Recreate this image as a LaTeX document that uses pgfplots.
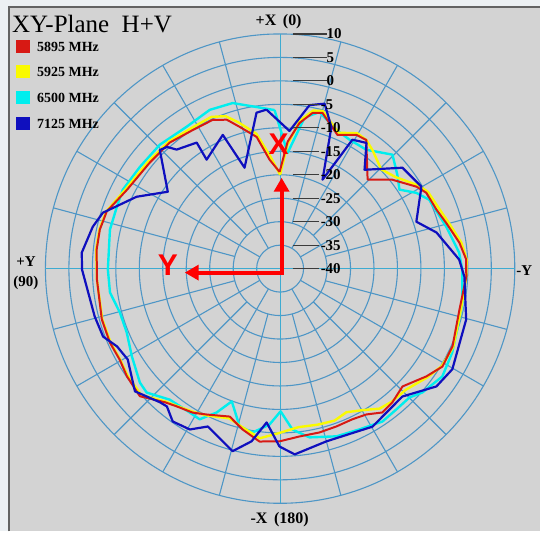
\documentclass[border=0pt]{standalone}
\usepackage{fontspec}
\setmainfont{Liberation Serif}
\newfontfamily\arialfont{Liberation Sans}
\usepackage{pgfplots}
\usepackage{pgfplotstable}
\usepgfplotslibrary{polar}
\usetikzlibrary{arrows.meta}
\pgfplotsset{compat=1.18}
\definecolor{bgc}{RGB}{211,211,211}
\definecolor{outc}{RGB}{236,240,243}
\definecolor{gridc}{RGB}{78,150,198}
\definecolor{c1}{RGB}{215,25,20}
\definecolor{c2}{RGB}{250,250,0}
\definecolor{c3}{RGB}{0,238,238}
\definecolor{c4}{RGB}{15,15,190}
\definecolor{leadc}{RGB}{60,60,60}

\pgfplotstableread{
a d
0.3 -19.4
5.5 -16.7
10.1 -11.5
15.9 -8.6
19.7 -6.3
24.4 -5.2
32.2 -5.1
41.2 -4.3
50.9 -4.2
62.8 -3.3
71.8 -1.1
77.8 -0.7
84.1 -0.7
93.4 -0.9
105.9 -0.5
113.5 -0.45
119.6 -0.7
125.1 -0.1
132.3 0.4
139.2 -2.4
143.1 -3.3
148.7 -4.1
153.3 -5.2
161.2 -6.7
166.9 -4.8
173.2 -2.9
179.8 -3.2
186.6 -4.0
193.5 -4.1
199.7 -4.3
205.6 -4.4
210.6 -3.9
215.4 -2.4
220.0 -2.8
226.1 -3.8
233.6 -1.3
238.9 0.4
245.7 0.3
257.1 -0.8
267.5 -0.3
272.8 -0.3
278.2 -1.4
285.4 -3.3
290.7 -4.4
297.4 -4.9
301.0 -6.1
308.4 -9.5
315.5 -13.4
326.2 -7.0
330.3 -7.2
336.8 -9.0
344.8 -5.6
348.2 -6.1
352.4 -8.7
356.6 -12.9
360.3 -19.4
}\tredA

\pgfplotstableread{
a d
0.0 -20.0
5.0 -16.0
10.0 -10.8
15.9 -7.6
19.7 -5.5
24.4 -4.5
32.2 -4.6
41.2 -4.0
50.9 -3.8
62.8 -3.0
71.8 -1.0
77.8 -0.6
84.1 -0.6
93.4 -0.9
105.9 -0.6
113.5 -0.6
119.6 -0.8
125.1 -0.3
132.3 0.0
139.2 -2.6
143.1 -3.4
148.7 -4.3
153.3 -5.0
161.2 -6.3
166.9 -5.2
173.2 -3.6
179.8 -5.0
186.6 -6.0
193.5 -5.8
199.7 -5.6
204.8 -6.3
210.6 -5.0
215.4 -3.4
220.0 -3.0
226.1 -2.8
233.6 -1.0
238.9 0.2
245.7 0.5
257.1 -0.5
267.5 -0.3
272.8 -0.2
278.2 -1.0
285.4 -2.8
290.7 -3.8
297.4 -4.5
301.0 -5.6
308.4 -8.6
314.5 -9.8
322.0 -8.0
326.2 -7.0
330.3 -6.8
336.8 -8.5
344.8 -5.2
348.2 -5.6
352.4 -8.2
356.6 -13.5
360.0 -20.0
}\tyelB

\pgfplotstableread{
a d
2.0 -6.2
8.3 -5.2
16.0 -3.3
23.9 -3.0
33.4 -3.8
44.2 -3.2
54.0 -3.1
63.4 -2.5
69.2 -2.8
77.1 -2.8
90.3 -3.3
98.0 -3.4
105.3 -4.6
112.6 -4.6
120.6 -3.3
129.1 -1.5
132.9 -1.2
139.9 -3.5
147.9 -3.8
151.9 -3.6
156.2 -6.5
160.0 -9.9
165.6 -5.3
170.5 -4.6
176.1 -6.7
180.2 -9.6
184.4 -5.6
189.9 -3.5
198.6 -2.3
206.3 -1.8
213.8 -0.8
219.6 -1.1
225.1 -1.1
229.0 0.2
236.4 1.5
244.0 0.8
251.0 -0.1
259.4 -0.5
269.7 -1.2
275.1 -1.7
284.2 -3.5
294.8 -5.0
299.1 -6.8
303.5 -9.5
308.7 -8.0
315.4 -5.9
324.0 -8.7
331.7 -8.8
337.9 -8.1
345.9 -5.6
350.8 -7.4
356.3 -15.3
362.0 -6.2
}\tcyaC

\pgfplotstableread{
a d
4.9 -6.0
8.6 -6.4
19.4 -17.2
23.2 -9.0
34.0 -12.0
33.5 -7.8
41.0 -6.4
42.9 -4.6
45.4 -4.0
55.6 -11.0
63.4 -5.8
72.5 -0.4
77.4 0.9
85.4 2.4
90.3 2.2
104.5 0.8
111.0 0.4
115.5 -1.5
120.8 -2.2
130.2 0.5
138.0 -1.7
140.6 -2.0
144.9 -0.2
150.7 -0.7
155.4 -3.0
165.4 0.2
170.6 -2.7
175.0 -7.1
179.8 -2.1
184.5 -0.3
195.0 -1.9
210.3 -1.0
223.7 -2.3
233.0 1.7
239.7 2.5
254.7 1.1
267.5 -0.7
272.9 -1.8
283.0 -5.8
289.0 -9.3
300.1 -5.2
309.5 -6.2
319.5 -12.3
325.5 -7.5
330.7 -8.5
334.5 -19.0
340.1 -7.9
344.9 -3.6
349.8 -4.6
356.1 -10.6
364.9 -6.0
}\tbluD

\begin{document}
\begin{tikzpicture}[x=1pt,y=1pt]
\fill[outc] (0,0) rectangle (541,532);
\fill[bgc] (9,0) rectangle (541,525);
\draw[leadc!80, line width=1.5pt] (9,0) -- (9,525) -- (541,525);

\begin{polaraxis}[
  at={(280.5pt,263pt)}, anchor=center,
  scale only axis, width=470pt, height=470pt,
  xmin=0, xmax=360, ymin=0, ymax=50,
  xtick={0,90,180,270}, ytick={0,5,...,50},
  xticklabels={}, yticklabels={},
  major tick length=0pt,
  xmajorgrids=false, ymajorgrids=true,
  major grid style={draw=gridc, line width=1.1pt},
  axis line style={draw=none},
  clip=false,
]
\pgfplotsinvokeforeach{0,90,180,270}{\draw[gridc!80!cyan, line width=1.1pt] (axis cs:#1,0) -- (axis cs:#1,50);}
\pgfplotsinvokeforeach{30,60,120,150,210,240,300,330}{\draw[gridc, line width=1.1pt] (axis cs:#1,5) -- (axis cs:#1,50);}
\pgfplotsinvokeforeach{15,45,75,105,135,165,195,225,255,285,315,345}{\draw[gridc, line width=1.1pt] (axis cs:#1,10) -- (axis cs:#1,50);}
\addplot[no markers, c3, line width=2.4pt, line join=round] table[x expr=\thisrow{a}+90, y expr=\thisrow{d}+40] {\tcyaC};
\addplot[no markers, c2, line width=2.4pt, line join=round] table[x expr=\thisrow{a}+90, y expr=\thisrow{d}+40] {\tyelB};
\addplot[no markers, c1, line width=2.0pt, line join=round] table[x expr=\thisrow{a}+90, y expr=\thisrow{d}+40] {\tredA};
\addplot[no markers, c4, line width=2.2pt, line join=round] table[x expr=\thisrow{a}+90, y expr=\thisrow{d}+40] {\tbluD};
\end{polaraxis}

% ring value leaders and labels
\foreach \d/\l in {10/10,5/5,0/0}{
  \draw[leadc, line width=1.2pt] (293,{263+(\d+40)*4.7}) -- (327,{263+(\d+40)*4.7});
  \node[anchor=west, inner sep=0pt, font=\bfseries\fontsize{15}{15}\selectfont] at (327,{263+(\d+40)*4.7}) {\l};
}
\foreach \d/\l in {-5/5,-10/10,-15/15,-20/20,-25/25,-30/30,-35/35,-40/40}{
  \draw[leadc, line width=1.2pt] (293,{263+(\d+40)*4.7}) -- (319,{263+(\d+40)*4.7});
  \node[anchor=west, inner sep=0pt, font=\bfseries\fontsize{15}{15}\selectfont] at (321,{263+(\d+40)*4.7}) {-\l};
}

% axis direction labels
\node[font=\bfseries\fontsize{16}{16}\selectfont] at (279,510) {+X\, (0)};
\node[font=\bfseries\fontsize{16}{16}\selectfont] at (280,12) {-X\, (180)};
\node[font=\bfseries\fontsize{15}{15}\selectfont] at (26,270) {+Y};
\node[font=\bfseries\fontsize{15}{15}\selectfont] at (26,249) {(90)};
\node[font=\bfseries\fontsize{15}{15}\selectfont] at (525,261) {-Y};

% legend
\node[anchor=west, inner sep=0pt, font=\fontsize{25}{25}\selectfont] at (12,508) {XY-Plane\enspace H+V};
\foreach \y/\c/\t in {485/c1/5895 MHz, 460/c2/5925 MHz, 434/c3/6500 MHz, 408/c4/7125 MHz}{
  \fill[\c] (16,\y-6.5) rectangle (30,\y+6.5);
  \node[anchor=west, inner sep=0pt, font=\bfseries\fontsize{14}{14}\selectfont] at (37,\y) {\t};
}

% red annotation arrows
\draw[red, line width=4pt, -{Triangle[length=14pt, width=15pt]}] (282,257) -- (282,354);
\draw[red, line width=4pt, -{Triangle[length=14pt, width=15pt]}] (284,259) -- (185,259);
\node[red, font=\arialfont\bfseries\fontsize{30}{30}\selectfont] at (279,388) {X};
\node[red, font=\arialfont\bfseries\fontsize{30}{30}\selectfont] at (168,266) {Y};
\end{tikzpicture}
\end{document}
